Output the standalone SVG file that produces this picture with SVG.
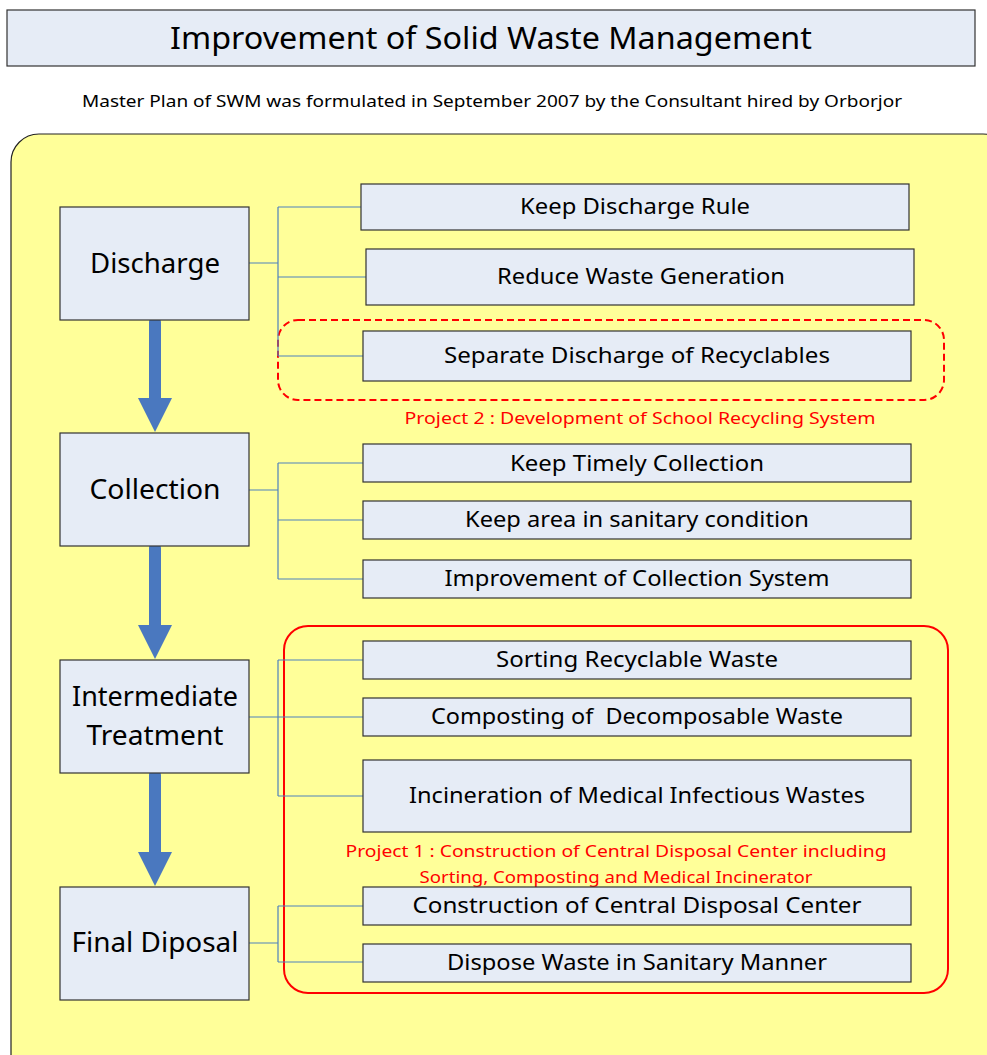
<svg xmlns="http://www.w3.org/2000/svg" width="987" height="1055" viewBox="0 0 987 1055">
  <style>
    .box { fill: #E6ECF6; stroke: #333333; stroke-width: 1.2; }
    .t { font-family: "Noto Sans", "Liberation Sans", sans-serif; fill: #000000; text-anchor: middle; }
    .red { font-family: "Noto Sans", "Liberation Sans", sans-serif; fill: #FF0000; text-anchor: middle; font-size: 17px; }
    .conn { fill: none; stroke: #4F81BD; stroke-width: 1.2; }
    .flow { fill: #4A78BF; }
  </style>

  <!-- heading -->
  <g id="title">
    <rect x="7" y="10" width="968" height="56" class="box"/>
    <text x="491" y="49" class="t" font-size="31" textLength="642" lengthAdjust="spacingAndGlyphs">Improvement of Solid Waste Management</text>
  </g>
  <text x="492" y="107" class="t" font-size="16" textLength="820" lengthAdjust="spacingAndGlyphs">Master Plan of SWM was formulated in September 2007 by the Consultant hired by Orborjor</text>

  <!-- background panel -->
  <rect id="panel" x="11" y="134" width="1000" height="950" rx="28" ry="28" fill="#FFFF99" stroke="#222222" stroke-width="1.2"/>

  <!-- project outlines -->
  <rect id="project2" x="278" y="320" width="666" height="80" rx="20" ry="20" fill="none" stroke="#FF0000" stroke-width="2" stroke-dasharray="7,4"/>
  <rect id="project1" x="284" y="626" width="664" height="367" rx="24" ry="24" fill="none" stroke="#FF0000" stroke-width="2"/>

  <!-- connectors -->
  <g id="connectors">
    <path class="conn" d="M249 263H278 M278 207V356 M278 207H361 M278 277H366 M278 356H363"/>
    <path class="conn" d="M249 490H278 M278 463V579 M278 463H363 M278 520H363 M278 579H363"/>
    <path class="conn" d="M249 717H278 M278 660V796 M278 660H363 M278 717H363 M278 796H363"/>
    <path class="conn" d="M249 943H278 M278 906V962 M278 906H363 M278 962H363"/>
    <path class="flow" d="M149 322a6 6 0 0 1 12 0V398H172L155 432L138 398H149Z"/>
    <path class="flow" d="M149 548a6 6 0 0 1 12 0V625H172L155 659L138 625H149Z"/>
    <path class="flow" d="M149 775a6 6 0 0 1 12 0V852H172L155 886L138 852H149Z"/>
  </g>

  <!-- stages -->
  <g id="discharge">
    <rect x="60" y="207" width="189" height="113" class="box"/>
    <text x="155" y="273" class="t" font-size="27" textLength="130" lengthAdjust="spacingAndGlyphs">Discharge</text>
  </g>
  <g id="collection">
    <rect x="60" y="433" width="189" height="113" class="box"/>
    <text x="155" y="499" class="t" font-size="27" textLength="131" lengthAdjust="spacingAndGlyphs">Collection</text>
  </g>
  <g id="intermediate">
    <rect x="60" y="660" width="189" height="113" class="box"/>
    <text x="155" y="706" class="t" font-size="27" textLength="166" lengthAdjust="spacingAndGlyphs">Intermediate</text>
    <text x="155" y="745" class="t" font-size="27" textLength="137" lengthAdjust="spacingAndGlyphs">Treatment</text>
  </g>
  <g id="final">
    <rect x="60" y="887" width="189" height="113" class="box"/>
    <text x="155" y="952" class="t" font-size="27" textLength="167" lengthAdjust="spacingAndGlyphs">Final Diposal</text>
  </g>

  <!-- measures -->
  <g id="keep-discharge-rule">
    <rect x="361" y="184" width="548" height="46" class="box"/>
    <text x="635" y="214" class="t" font-size="22" textLength="230" lengthAdjust="spacingAndGlyphs">Keep Discharge Rule</text>
  </g>
  <g id="reduce-waste">
    <rect x="366" y="249" width="548" height="56" class="box"/>
    <text x="641" y="284" class="t" font-size="22" textLength="288" lengthAdjust="spacingAndGlyphs">Reduce Waste Generation</text>
  </g>
  <g id="separate-discharge">
    <rect x="363" y="331" width="548" height="50" class="box"/>
    <text x="637" y="363" class="t" font-size="22" textLength="386" lengthAdjust="spacingAndGlyphs">Separate Discharge of Recyclables</text>
  </g>
  <text x="640" y="424" class="red" textLength="471" lengthAdjust="spacingAndGlyphs">Project 2 : Development of School Recycling System</text>

  <g id="timely-collection">
    <rect x="363" y="444" width="548" height="38" class="box"/>
    <text x="637" y="471" class="t" font-size="22" textLength="254" lengthAdjust="spacingAndGlyphs">Keep Timely Collection</text>
  </g>
  <g id="sanitary-area">
    <rect x="363" y="501" width="548" height="38" class="box"/>
    <text x="637" y="527" class="t" font-size="22" textLength="344" lengthAdjust="spacingAndGlyphs">Keep area in sanitary condition</text>
  </g>
  <g id="collection-system">
    <rect x="363" y="560" width="548" height="38" class="box"/>
    <text x="637" y="586" class="t" font-size="22" textLength="385" lengthAdjust="spacingAndGlyphs">Improvement of Collection System</text>
  </g>

  <g id="sorting">
    <rect x="363" y="641" width="548" height="38" class="box"/>
    <text x="637" y="667" class="t" font-size="22" textLength="282" lengthAdjust="spacingAndGlyphs">Sorting Recyclable Waste</text>
  </g>
  <g id="composting">
    <rect x="363" y="698" width="548" height="38" class="box"/>
    <text x="637" y="724" class="t" font-size="22" textLength="412" lengthAdjust="spacingAndGlyphs" xml:space="preserve">Composting of  Decomposable Waste</text>
  </g>
  <g id="incineration">
    <rect x="363" y="760" width="548" height="72" class="box"/>
    <text x="637" y="803" class="t" font-size="22" textLength="456" lengthAdjust="spacingAndGlyphs">Incineration of Medical Infectious Wastes</text>
  </g>
  <text x="616" y="857" class="red" textLength="541" lengthAdjust="spacingAndGlyphs">Project 1 : Construction of Central Disposal Center including</text>
  <text x="616" y="883" class="red" textLength="393" lengthAdjust="spacingAndGlyphs">Sorting, Composting and Medical Incinerator</text>

  <g id="central-disposal">
    <rect x="363" y="887" width="548" height="38" class="box"/>
    <text x="637" y="913" class="t" font-size="22" textLength="449" lengthAdjust="spacingAndGlyphs">Construction of Central Disposal Center</text>
  </g>
  <g id="sanitary-disposal">
    <rect x="363" y="944" width="548" height="38" class="box"/>
    <text x="637" y="970" class="t" font-size="22" textLength="380" lengthAdjust="spacingAndGlyphs">Dispose Waste in Sanitary Manner</text>
  </g>
</svg>
